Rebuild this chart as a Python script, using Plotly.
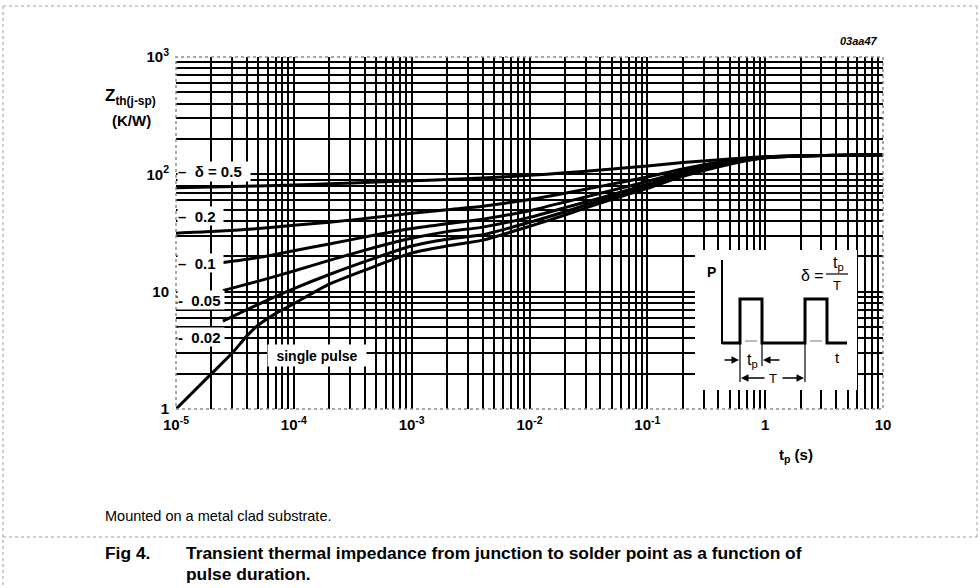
import plotly.graph_objects as go

# ---------------- data ----------------
x_full = [1e-5, 2e-5, 5e-5, 1e-4, 2e-4, 5e-4, 1e-3, 2e-3, 4e-3, 1e-2, 2e-2, 4e-2,
          0.1, 0.2, 0.5, 1, 2, 5, 10]
z_d05 = [77, 78, 79.5, 81, 83, 86, 88, 90.5, 93, 98, 103, 109,
         118, 126, 135, 141, 144, 145.5, 147]
z_d02 = [31.5, 32.5, 34.5, 36.8, 39, 43, 46.5, 50, 53.5, 61, 69, 79,
         95, 111, 131, 141, 144, 145.5, 147]

x_mid = [2.5e-5, 5e-5, 1e-4, 2e-4, 5e-4, 1e-3, 2e-3, 4e-3, 1e-2, 2e-2, 4e-2,
         0.1, 0.2, 0.5, 1, 2, 5, 10]
z_d01 = [17.7, 19.5, 22.3, 25.5, 30.5, 34.5, 38, 41.5, 49, 58, 69,
         87, 106, 128, 140, 144, 145.5, 147]
z_d005 = [10.2, 12.3, 15.0, 18.5, 24, 28.5, 32.5, 35.5, 43, 52, 63,
          82, 102, 126, 139, 143.5, 145.5, 147]
z_d002 = [5.6, 7.8, 10.6, 14, 19.5, 24.5, 28, 30.5, 39, 48, 60,
          79, 99, 124, 139, 143.5, 145.5, 147]

x_single = [1e-5, 2e-5, 3e-5, 4e-5, 5e-5, 7e-5, 1e-4, 2e-4, 5e-4, 1e-3, 2e-3, 4e-3,
            1e-2, 2e-2, 4e-2, 0.1, 0.2, 0.5, 1, 2, 5, 10]
z_single = [1.0, 2.0, 3.0, 4.2, 5.2, 6.5, 7.9, 11.6, 16.6, 21.4, 24.5, 27.5,
            36, 45, 57, 76, 96, 122, 138, 143, 145.5, 147]

x_tickvals = [1e-5, 1e-4, 1e-3, 1e-2, 1e-1, 1, 10]
x_ticktext = ["10<sup>-5</sup>", "10<sup>-4</sup>", "10<sup>-3</sup>", "10<sup>-2</sup>",
              "10<sup>-1</sup>", "1", "10"]
y_tickvals = [1, 10, 100, 1000]
y_ticktext = ["1", "10", "10<sup>2</sup>", "10<sup>3</sup>"]

series = [
    ("δ = 0.5", x_full, z_d05),
    ("0.2", x_full, z_d02),
    ("0.1", x_mid, z_d01),
    ("0.05", x_mid, z_d005),
    ("0.02", x_mid, z_d002),
    ("single pulse", x_single, z_single),
]

# ---------------- layout geometry ----------------
W, H = 980, 588
L, R, T, B = 176, 883, 57, 409
PW, PH = R - L, B - T


def px(x):
    return (x - L) / PW


def py(y):
    return (B - y) / PH


FONT = "Liberation Sans, Arial, sans-serif"

fig = go.Figure()
for name, xs, ys in series:
    fig.add_trace(go.Scatter(x=xs, y=ys, mode="lines", name=name,
                             line=dict(color="black", width=3, shape="spline", smoothing=0.6),
                             showlegend=False, hoverinfo="skip"))


def minor_vals(lo, hi):
    vals = []
    for e in range(lo, hi):
        for m in range(2, 10):
            vals.append(m * 10 ** e)
    return vals


grid = dict(showgrid=True, gridcolor="black", gridwidth=2, zeroline=False,
            showline=False, ticks="")
fig.update_xaxes(type="log", range=[-5, 1], tickmode="array", tickvals=x_tickvals,
                 ticktext=x_ticktext, ticklabelstandoff=5,
                 minor=dict(tickmode="array", tickvals=minor_vals(-5, 1), showgrid=True,
                            gridcolor="black", gridwidth=2, ticks=""),
                 tickfont=dict(family=FONT, size=15, color="black", weight="bold"), **grid)
fig.update_yaxes(type="log", range=[0, 3], tickmode="array", tickvals=y_tickvals,
                 ticktext=y_ticktext, ticklabelstandoff=6,
                 minor=dict(tickmode="array", tickvals=minor_vals(0, 3), showgrid=True,
                            gridcolor="black", gridwidth=2, ticks=""),
                 tickfont=dict(family=FONT, size=15, color="black", weight="bold"), **grid)

shapes = []
# inset white area (covers the grid)
shapes.append(dict(type="rect", xref="paper", yref="paper", x0=px(695), x1=px(857),
                   y0=py(390), y1=py(250), fillcolor="white", line=dict(width=0),
                   layer="above"))
# plot frame (dotted grey)
shapes.append(dict(type="rect", xref="paper", yref="paper", x0=0, y0=0, x1=1, y1=1,
                   line=dict(color="#8a8a8a", width=1.5, dash="dot"), layer="above"))


def seg(x0, y0, x1, y1, w=2, color="black", dash=None):
    ln = dict(color=color, width=w)
    if dash:
        ln["dash"] = dash
    shapes.append(dict(type="line", xref="paper", yref="paper", x0=px(x0), y0=py(y0),
                       x1=px(x1), y1=py(y1), line=ln, layer="above"))


# inset pulse diagram
seg(722, 260, 722, 344, 2)
pulse = [(722, 343), (740, 343), (740, 299), (762, 299), (762, 343), (805, 343),
         (805, 299), (827, 299), (827, 343), (847, 343)]
path = "M " + " L ".join(f"{px(a):.5f},{py(b):.5f}" for a, b in pulse)
shapes.append(dict(type="path", xref="paper", yref="paper", path=path,
                   line=dict(color="black", width=3), layer="above"))
seg(745, 341, 757, 341, 1, "#777")
seg(810, 341, 822, 341, 1, "#777")
seg(740, 343, 740, 382, 1.2)
seg(762, 343, 762, 366, 1.2)
seg(805, 343, 805, 382, 1.2)
seg(826, 274, 848, 274, 1.2)


# outer figure frame
def pseg(x0, y0, x1, y1):
    shapes.append(dict(type="line", xref="paper", yref="paper", x0=px(x0), y0=py(y0),
                       x1=px(x1), y1=py(y1), line=dict(color="#a0a0a0", width=1, dash="dot"),
                       layer="above"))


pseg(3, 6, 977, 6)
pseg(3, 6, 3, 588)
pseg(977, 6, 977, 537)
pseg(3, 537, 977, 537)

fig.update_layout(shapes=shapes)

ann = []


def text(x, y, s, size=14, bold=True, xanchor="center", italic=False, **kw):
    t = s
    if bold:
        t = "<b>" + t + "</b>"
    if italic:
        t = "<i>" + t + "</i>"
    d = dict(xref="paper", yref="paper", x=px(x), y=py(y), text=t, showarrow=False,
             xanchor=xanchor, yanchor="middle",
             font=dict(family=FONT, size=size, color="black"))
    d.update(kw)
    ann.append(d)


# curve labels with white boxes
text(176.5, 171, "–  δ = 0.5", size=15, xanchor="left", bgcolor="white", width=72, height=19,
     align="left", borderpad=0)
text(176.5, 216, "–  0.2", size=15, xanchor="left", bgcolor="white", width=45, height=18,
     align="left", borderpad=0)
text(176.5, 263, "–  0.1", size=15, xanchor="left", bgcolor="white", width=45, height=18,
     align="left", borderpad=0)
text(176.5, 300, "-  0.05", size=15, xanchor="left", bgcolor="white", width=46, height=18,
     align="left", borderpad=0)
text(176.5, 337, "-  0.02", size=15, xanchor="left", bgcolor="white", width=46, height=18,
     align="left", borderpad=0)
text(317, 355, "single pulse", size=14, bgcolor="white", width=98, height=21, borderpad=0)

# axis titles
text(130, 97, "Z<sub>th(j-sp)</sub>", size=17)
text(131, 121, "(K/W)", size=15)
text(796, 455, "t<sub>p</sub> (s)", size=15)
text(880, 41, "03aa47", size=11, xanchor="right", italic=True)

# inset texts
text(711, 272, "P", size=14)
text(837, 357, "t", size=15, bold=False)
text(812, 275, "δ =", size=16, bold=False)
text(838, 263, "t<sub>p</sub>", size=16, bold=False)
text(837, 285, "T", size=13, bold=False)
text(752, 360, "t<sub>p</sub>", size=16, bold=False, bgcolor="white", borderpad=0)
text(773, 378, "T", size=13, bold=False)

# inset arrows
for hx, hy, tx, ty in [(739, 360, 723, 360), (763, 360, 781, 360),
                       (741, 378, 766, 378), (804, 378, 781, 378)]:
    ann.append(dict(xref="paper", yref="paper", x=px(hx), y=py(hy), ax=tx - hx, ay=ty - hy,
                    axref="pixel", ayref="pixel", text="", showarrow=True, arrowhead=2,
                    arrowsize=1, arrowwidth=1.5, arrowcolor="black"))

# captions
text(103, 516, "Mounted on a metal clad substrate.", size=14.5, bold=False, xanchor="left")
text(103, 553, "Fig 4.", size=17.4, xanchor="left")
text(184, 553, "Transient thermal impedance from junction to solder point as a function of",
     size=17.4, xanchor="left")
text(184, 574, "pulse duration.", size=17.4, xanchor="left")

fig.update_layout(annotations=ann, width=W, height=H,
                  margin=dict(l=L, r=W - R, t=T, b=H - B),
                  paper_bgcolor="white", plot_bgcolor="white", showlegend=False)

fig.write_html("out.html", config={"displayModeBar": False},
               post_script="document.body.style.margin='0px';")
